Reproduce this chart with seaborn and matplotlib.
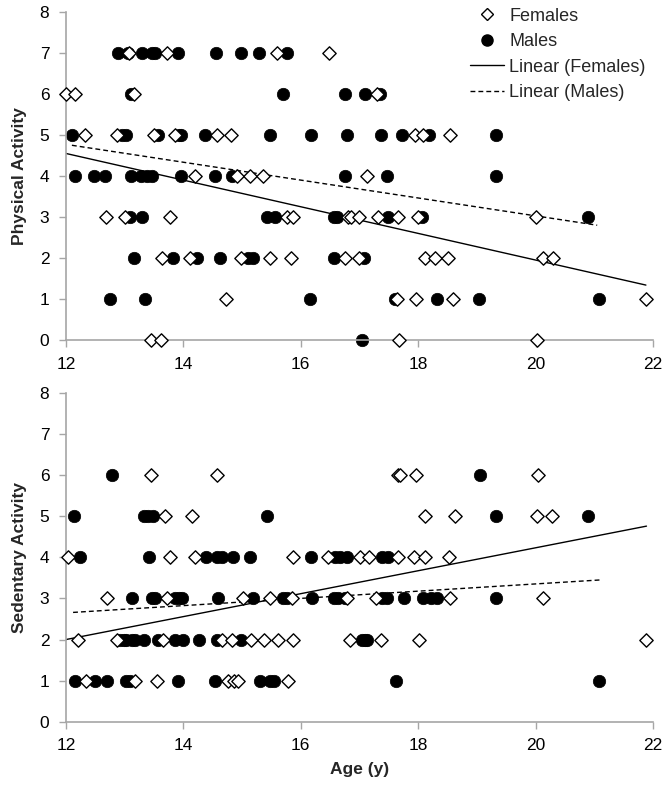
import matplotlib
matplotlib.use("Agg")
import matplotlib.pyplot as plt
import seaborn as sns
import pandas as pd
from matplotlib.lines import Line2D

# ---- data: ages per activity score ----
pa_females = {
    7: [13.07, 13.72, 15.59, 16.48],
    6: [12.00, 12.15, 13.15, 17.30],
    5: [12.32, 12.86, 13.50, 13.86, 14.57, 14.81, 17.95, 18.09, 18.55],
    4: [14.19, 14.91, 15.14, 15.36, 17.12],
    3: [12.68, 13.00, 13.77, 15.76, 15.86, 16.80, 16.86, 16.99, 17.32, 17.65, 18.00, 20.01],
    2: [13.63, 14.11, 14.98, 15.47, 15.83, 16.76, 16.99, 18.11, 18.28, 18.51, 20.12, 20.29],
    1: [14.73, 17.64, 17.97, 18.60, 21.88],
    0: [13.44, 13.62, 17.68, 20.03],
}
pa_males = {
    7: [12.89, 13.05, 13.30, 13.46, 13.51, 13.90, 14.56, 14.98, 15.28, 15.76],
    6: [13.11, 15.70, 16.76, 17.10, 17.35],
    5: [12.10, 12.95, 13.03, 13.57, 13.93, 13.96, 14.36, 15.48, 16.18, 16.78, 17.37, 17.72, 18.19, 19.32],
    4: [12.15, 12.47, 12.66, 13.11, 13.28, 13.38, 13.46, 13.96, 14.54, 14.82, 16.76, 17.47, 19.32],
    3: [13.09, 13.30, 15.42, 15.56, 16.57, 16.61, 17.48, 18.06, 20.89],
    2: [13.15, 13.83, 14.24, 14.63, 15.10, 15.18, 16.57, 17.07],
    1: [12.75, 13.34, 16.15, 17.61, 18.32, 19.04, 21.08],
    0: [17.04],
}
sa_females = {
    6: [13.45, 14.58, 17.65, 17.69, 17.97, 20.05],
    5: [13.68, 14.14, 18.12, 18.62, 20.03, 20.28],
    4: [12.03, 13.77, 14.19, 15.86, 16.47, 17.01, 17.17, 17.65, 17.93, 18.11, 18.52],
    3: [12.69, 13.72, 15.01, 15.48, 15.85, 16.78, 17.28, 18.55, 20.12],
    2: [12.20, 12.86, 13.66, 14.65, 14.82, 15.16, 15.38, 15.61, 15.86, 16.84, 17.36, 18.02, 21.88],
    1: [12.34, 13.18, 13.55, 14.76, 14.87, 14.93, 15.78],
}
sa_males = {
    6: [12.79, 19.05],
    5: [12.13, 13.32, 13.40, 13.49, 15.43, 19.33, 20.89],
    4: [12.24, 13.42, 14.38, 14.57, 14.66, 14.85, 15.14, 16.17, 16.59, 16.67, 16.78, 17.38, 17.49],
    3: [13.12, 13.46, 13.52, 13.86, 13.93, 13.98, 14.59, 15.18, 15.70, 15.76, 16.19, 16.56,
        16.63, 16.76, 17.38, 17.47, 17.75, 18.09, 18.21, 18.32, 19.33],
    2: [12.92, 12.98, 13.03, 13.12, 13.18, 13.32, 13.57, 13.85, 14.00, 14.26, 14.57, 14.98,
        17.04, 17.10, 17.12],
    1: [12.16, 12.49, 12.69, 13.03, 13.09, 13.91, 14.54, 15.30, 15.47, 15.55, 17.62, 21.08],
}
# linear trendlines (endpoints)
pa_fem_trend_x = [12.00, 21.88]; pa_fem_trend_y = [4.55, 1.34]
pa_mal_trend_x = [12.10, 21.05]; pa_mal_trend_y = [4.75, 2.80]
sa_fem_trend_x = [12.00, 21.89]; sa_fem_trend_y = [2.00, 4.76]
sa_mal_trend_x = [12.12, 21.10]; sa_mal_trend_y = [2.66, 3.45]

x_ticks = [12, 14, 16, 18, 20, 22]
y_ticks = [0, 1, 2, 3, 4, 5, 6, 7, 8]


def to_df(d):
    rows = [(a, s) for s, ages in d.items() for a in ages]
    return pd.DataFrame(rows, columns=["age", "score"])


sns.set_style("white")
plt.rcParams["font.family"] = ["Liberation Sans", "DejaVu Sans"]

fig = plt.figure(figsize=(6.69, 7.86), dpi=100)
ax1 = fig.add_axes([0.0987, 0.5674, 0.8773, 0.4173])
ax2 = fig.add_axes([0.0987, 0.0818, 0.8773, 0.4182])

GREY = "#A6A6A6"
DASH = (0, (3.5, 2.2))


def draw(ax, fem, mal, ftx, fty, mtx, mty, ylabel):
    sns.lineplot(x=ftx, y=fty, ax=ax, color="black", linewidth=1.0, zorder=1)
    sns.lineplot(x=mtx, y=mty, ax=ax, color="black", linewidth=1.0, linestyle=DASH, zorder=1)
    dm = to_df(mal)
    df = to_df(fem)
    sns.scatterplot(data=dm, x="age", y="score", ax=ax, marker="o", s=80,
                    color="black", edgecolor="black", linewidth=0.5, zorder=2,
                    clip_on=False)
    sns.scatterplot(data=df, x="age", y="score", ax=ax, marker="D", s=46,
                    facecolor="white", edgecolor="black", linewidth=1.0, zorder=3,
                    clip_on=False)
    ax.set_xlim(12, 22)
    ax.set_ylim(0, 8)
    ax.set_xticks(x_ticks)
    ax.set_yticks(y_ticks)
    ax.set_ylabel(ylabel, fontsize=12.5, fontweight="bold", labelpad=9)
    for side in ["top", "right"]:
        ax.spines[side].set_visible(False)
    for side in ["left", "bottom"]:
        ax.spines[side].set_color(GREY)
        ax.spines[side].set_linewidth(1.2)
    ax.tick_params(axis="both", direction="out", length=5, width=1.0, color=GREY,
                   labelsize=12.5, labelcolor="black", left=True, bottom=True, pad=7)
    ax.set_xlabel("")


draw(ax1, pa_females, pa_males, pa_fem_trend_x, pa_fem_trend_y,
     pa_mal_trend_x, pa_mal_trend_y, "Physical Activity")
draw(ax2, sa_females, sa_males, sa_fem_trend_x, sa_fem_trend_y,
     sa_mal_trend_x, sa_mal_trend_y, "Sedentary Activity")
ax2.set_xlabel("Age (y)", fontsize=12.5, fontweight="bold", labelpad=6)

handles = [
    Line2D([], [], marker="D", linestyle="none", markerfacecolor="white",
           markeredgecolor="black", markersize=6, markeredgewidth=1.0),
    Line2D([], [], marker="o", linestyle="none", color="black", markersize=8),
    Line2D([], [], color="black", linewidth=1.0),
    Line2D([], [], color="black", linewidth=1.0, linestyle=DASH),
]
labels = ["Females", "Males", "Linear (Females)", "Linear (Males)"]
ax1.legend(handles, labels, loc="upper right", bbox_to_anchor=(1.0, 1.035), frameon=False,
           fontsize=13, handlelength=1.9, handletextpad=0.3, labelspacing=0.47,
           borderaxespad=0.0)

fig.savefig("out.png", dpi=100)
